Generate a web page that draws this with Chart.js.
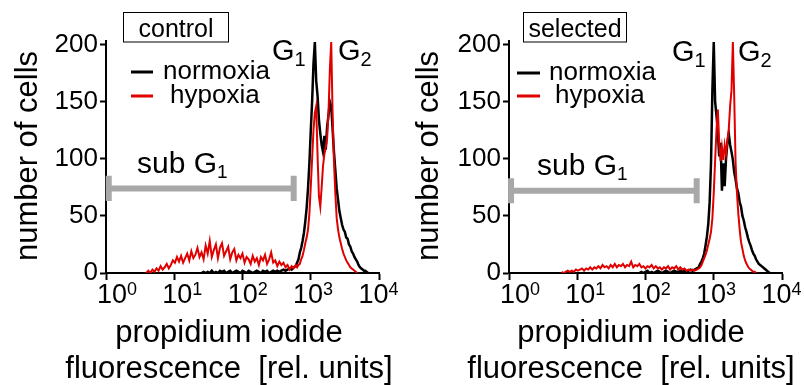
<!DOCTYPE html>
<html>
<head>
<meta charset="utf-8">
<script src="https://cdn.jsdelivr.net/npm/chart.js@4.4.1/dist/chart.umd.min.js"></script>
<style>
  html, body { margin: 0; padding: 0; background: #fff; }
  .wrap { display: flex; width: 804px; height: 385px; }
  canvas { display: block; }
</style>
</head>
<body>
<div class="wrap">
  <canvas id="ctrl" width="402" height="385"></canvas>
  <canvas id="sel" width="402" height="385"></canvas>
</div>
<script>
/* ── Data ─────────────────────────────────── */
// x positions in decades (log10 of PI fluorescence), shared by all traces
const decadesLow = [
  0.50, 0.53, 0.56, 0.59, 0.62, 0.65, 0.68, 0.71, 0.74, 0.77,
  0.80, 0.83, 0.86, 0.89, 0.92, 0.95, 0.98, 1.01, 1.04, 1.07,
  1.10, 1.13, 1.16, 1.19, 1.22, 1.25, 1.28, 1.31, 1.34, 1.37,
  1.40, 1.43, 1.46, 1.49, 1.52, 1.55, 1.58, 1.61, 1.64, 1.67,
  1.70, 1.73, 1.76, 1.79, 1.82, 1.85, 1.88, 1.91, 1.94, 1.97,
  2.00, 2.03, 2.06, 2.09, 2.12, 2.15, 2.18, 2.21, 2.24, 2.27,
  2.30, 2.33, 2.36, 2.39, 2.42, 2.45, 2.48, 2.51, 2.54, 2.57,
  2.60, 2.63, 2.66, 2.69, 2.72, 2.75, 2.78
];
const decadesPeak = [
  2.80, 2.82, 2.84, 2.86, 2.88, 2.90, 2.92, 2.94, 2.96, 2.98,
  3.00, 3.02, 3.04, 3.06, 3.08, 3.10, 3.12, 3.14, 3.16, 3.18,
  3.20, 3.22, 3.24, 3.26, 3.28, 3.30, 3.32, 3.34, 3.36, 3.38,
  3.40, 3.42, 3.44, 3.46, 3.48, 3.50, 3.52, 3.54, 3.56, 3.58,
  3.60, 3.62, 3.64, 3.66, 3.68, 3.70, 3.72, 3.74, 3.76, 3.78,
  3.80, 3.82, 3.84
];
const decadeTicks = [0, 1, 2, 3, 4];
const countTicks = [0, 50, 100, 150, 200];

// control
const ctrlNormoxiaLow = [
  null, null, null, null, null, null, null, null, null, null,
  null, null, null, null, null, null, null, null, null, null,
  null, null, null, null, null, null, null, null, null, null,
  0, 1, 0, 1, 0, 2, 0, 1, 0, 2,
  1, 2, 0, 1, 2, 0, 1, 2, 1, 0,
  2, 1, 0, 2, 1, 0, 1, 2, 1, 0,
  2, 1, 2, 0, 1, 2, 1, 2, 1, 2,
  3, 2, 3, 4, 3, 5, 6
];
const ctrlNormoxiaPeak = [
  9, 12, 18, 22, 28, 35, 45, 57, 74, 96,
  124, 150, 183, 202, 168, 155, 134, 122, 112, 106,
  120, 108, 128, 138, 150, 146, 126, 106, 90, 74,
  64, 54, 48, 42, 38, 36, 31, 30, 25, 23,
  19, 17, 14, 12, 10, 7, 5, 4, 3, 2,
  2, 1, 0
];
const ctrlHypoxiaLow = [
  null, null, null, 0, 2, 0, 3, 1, 4, 2,
  6, 3, 5, 8, 4, 7, 11, 9, 14, 10,
  15, 9, 13, 17, 11, 19, 13, 16, 22, 14,
  18, 12, 24, 17, 28, 14, 20, 25, 13, 22,
  26, 15, 19, 23, 12, 18, 21, 11, 16, 13,
  17, 9, 14, 12, 8, 15, 10, 13, 7, 14,
  11, 16, 8, 12, 18, 9, 11, 6, 10, 7,
  9, 5, 7, 3, 6, 4, 7
];
const ctrlHypoxiaPeak = [
  5, 7, 8, 12, 15, 20, 26, 31, 38, 52,
  75, 100, 125, 140, 146, 102, 67, 58, 75, 94,
  104, 110, 118, 140, 178, 202, 140, 98, 70, 48,
  38, 31, 26, 21, 17, 14, 11, 9, 7, 5,
  4, 3, 2, 1, 0, null, null, null, null, null,
  null, null, null
];

// selected
const selNormoxiaLow = [
  null, null, null, null, null, null, null, null, null, null,
  null, null, null, null, null, null, null, null, null, null,
  null, null, null, null, null, null, null, null, null, null,
  null, null, null, null, null, null, null, null, null, null,
  null, null, null, null, null, null, null, 0, 1, 0,
  1, 2, 0, 1, 0, 1, 2, 1, 0, 1,
  2, 1, 0, 1, 2, 1, 1, 2, 1, 2,
  1, 2, 3, 2, 3, 4, 5
];
const selNormoxiaPeak = [
  8, 10, 13, 17, 24, 32, 43, 62, 96, 160,
  202, 150, 138, 124, 102, 114, 72, 96, 76, 100,
  114, 122, 112, 106, 99, 88, 82, 74, 70, 62,
  58, 50, 46, 40, 36, 31, 27, 24, 20, 17,
  15, 12, 10, 8, 7, 6, 5, 4, 3, 2,
  1, 0, null
];
const selHypoxiaLow = [
  null, null, null, null, null, null, null, null, null, 1,
  0, 1, 2, 1, 2, 1, 3, 2, 3, 4,
  2, 4, 3, 5, 3, 5, 4, 6, 4, 7,
  5, 6, 4, 7, 5, 8, 5, 7, 6, 8,
  5, 7, 6, 10, 5, 7, 6, 8, 5, 6,
  4, 6, 5, 7, 4, 6, 4, 5, 3, 5,
  4, 6, 3, 5, 4, 6, 3, 5, 3, 4,
  2, 3, 2, 3, 2, 3, 4
];
const selHypoxiaPeak = [
  5, 7, 10, 13, 16, 20, 25, 30, 36, 48,
  70, 98, 125, 143, 114, 98, 110, 99, 112, 104,
  116, 126, 146, 160, 202, 154, 96, 70, 52, 38,
  27, 21, 15, 11, 8, 6, 4, 3, 2, 1,
  1, 0, null, null, null, null, null, null, null, null,
  null, null, null
];

const seriesNames = ['normoxia', 'hypoxia'];
const seriesColors = ['#000000', '#e00000'];

/* ── Panel layout ─────────────────────────── */
const FONT = '"Liberation Sans", Arial, Helvetica, sans-serif';
const font = (size) => `${size}px ${FONT}`;

const panels = [
  {
    canvas: 'ctrl', label: 'control',
    normoxia: [ctrlNormoxiaLow, ctrlNormoxiaPeak],
    hypoxia: [ctrlHypoxiaLow, ctrlHypoxiaPeak],
    axisLeft: 106, padRight: 23, yTitleX: 37,
    box: { x: 123.5, y: 12.5, w: 105, h: 29.5 },
    legend: { x0: 131, x1: 153, tx: [163, 170], y: [72, 96] },
    gLabels: { g1: 272, g2: 338, base: 60 },
    subG1: { x: 137, base: 173 },
    bar: { from: 0.04, to: 2.75, count: 74 },
  },
  {
    canvas: 'sel', label: 'selected',
    normoxia: [selNormoxiaLow, selNormoxiaPeak],
    hypoxia: [selHypoxiaLow, selHypoxiaPeak],
    axisLeft: 107, padRight: 22, yTitleX: 36,
    box: { x: 121.5, y: 12.5, w: 103, h: 29.5 },
    legend: { x0: 115, x1: 138, tx: [147, 153], y: [73, 96] },
    gLabels: { g1: 270, g2: 336, base: 61 },
    subG1: { x: 135, base: 175 },
    bar: { from: 0.03, to: 2.75, count: 72 },
  },
];

function toPoints(parts) {
  const xs = decadesLow.concat(decadesPeak);
  const ys = parts[0].concat(parts[1]);
  return xs.map((x, i) => ({ x, y: ys[i] }));
}

// text runs with sub/superscripts
function drawRuns(ctx, runs, x, y) {
  let cx = x;
  runs.forEach(r => {
    ctx.font = font(r.size);
    ctx.fillText(r.text, cx, y + (r.dy || 0));
    cx += ctx.measureText(r.text).width;
  });
}

function decorPlugin(p) {
  return {
    id: 'decor',
    afterDraw(chart) {
      const { ctx, scales: { x: xs, y: ys } } = chart;
      ctx.save();
      ctx.fillStyle = '#000';
      ctx.textBaseline = 'alphabetic';
      ctx.textAlign = 'left';

      // x tick labels 10^n (the original labels sit a little left of their ticks, more so to the right)
      decadeTicks.forEach(d => {
        const px = xs.getPixelForValue(d);
        ctx.font = font(27);
        const w = ctx.measureText('10').width;
        drawRuns(ctx, [
          { text: '10', size: 27 },
          { text: String(d), size: 18, dy: -8 },
        ], px + 6 - 2.9 * d - w / 2, 303);
      });

      // axis titles
      ctx.font = font(31);
      ctx.textAlign = 'center';
      ctx.fillText('propidium iodide', 229, 342);
      ctx.fillText('fluorescence  [rel. units]', 229, 378);
      ctx.save();
      ctx.translate(p.yTitleX, 156);
      ctx.rotate(-Math.PI / 2);
      ctx.fillText('number of cells', 0, 0);
      ctx.restore();

      // panel label box
      const b = p.box;
      ctx.lineWidth = 1;
      ctx.strokeStyle = '#000';
      ctx.strokeRect(b.x, b.y, b.w, b.h);
      ctx.font = font(25);
      ctx.fillText(p.label, b.x + b.w / 2, b.y + 24);

      // legend
      ctx.textAlign = 'left';
      ctx.lineWidth = 3;
      seriesNames.forEach((name, i) => {
        const lg = p.legend;
        ctx.strokeStyle = seriesColors[i];
        ctx.beginPath();
        ctx.moveTo(lg.x0, lg.y[i]);
        ctx.lineTo(lg.x1, lg.y[i]);
        ctx.stroke();
        ctx.font = font(26);
        ctx.fillText(name, lg.tx[i], lg.y[i] + 7);
      });

      // G1 / G2
      const g = p.gLabels;
      drawRuns(ctx, [{ text: 'G', size: 29 }, { text: '1', size: 20, dy: 6 }], g.g1, g.base);
      drawRuns(ctx, [{ text: 'G', size: 29 }, { text: '2', size: 20, dy: 6 }], g.g2, g.base);

      // sub G1 bracket
      const bar = p.bar;
      const x0 = xs.getPixelForValue(bar.from);
      const x1 = xs.getPixelForValue(bar.to);
      const yb = ys.getPixelForValue(bar.count);
      const yt = ys.getPixelForValue(bar.count + 11);
      const yl = ys.getPixelForValue(bar.count - 11);
      ctx.strokeStyle = '#a8a8a8';
      ctx.lineWidth = 6;
      ctx.beginPath();
      ctx.moveTo(x0, yb); ctx.lineTo(x1, yb);
      ctx.moveTo(x0, yt); ctx.lineTo(x0, yl);
      ctx.moveTo(x1, yt); ctx.lineTo(x1, yl);
      ctx.stroke();
      drawRuns(ctx, [{ text: 'sub G', size: 30 }, { text: '1', size: 19, dy: 5 }], p.subG1.x, p.subG1.base);

      ctx.restore();
    },
  };
}

/* ── Charts ───────────────────────────────── */
panels.forEach(p => {
  new Chart(document.getElementById(p.canvas), {
    type: 'line',
    data: {
      datasets: [
        {
          label: seriesNames[0],
          data: toPoints(p.normoxia),
          borderColor: seriesColors[0],
          borderWidth: 2.5,
          pointRadius: 0,
          order: 2,
        },
        {
          label: seriesNames[1],
          data: toPoints(p.hypoxia),
          borderColor: seriesColors[1],
          borderWidth: 2,
          pointRadius: 0,
          order: 1,
        },
      ],
    },
    options: {
      responsive: false,
      animation: false,
      layout: { padding: { top: 41, right: p.padRight, left: 0, bottom: 0 } },
      plugins: { legend: { display: false }, tooltip: { enabled: false } },
      scales: {
        x: {
          type: 'linear', min: 0, max: 4,
          afterBuildTicks: s => { s.ticks = decadeTicks.map(v => ({ value: v })); },
          afterFit: s => { s.height = 112; },
          ticks: { display: false },
          grid: { drawOnChartArea: false, tickLength: 7, tickWidth: 2, tickColor: '#000' },
          border: { color: '#000', width: 2 },
        },
        y: {
          min: 0, max: 203,
          afterBuildTicks: s => { s.ticks = countTicks.map(v => ({ value: v })); },
          afterFit: s => { s.width = p.axisLeft; },
          ticks: { color: '#000', font: { family: FONT, size: 26 }, padding: 2 },
          grid: { drawOnChartArea: false, tickLength: 6, tickWidth: 2, tickColor: '#000' },
          border: { color: '#000', width: 2 },
        },
      },
    },
    plugins: [decorPlugin(p)],
  });
});
</script>
</body>
</html>
